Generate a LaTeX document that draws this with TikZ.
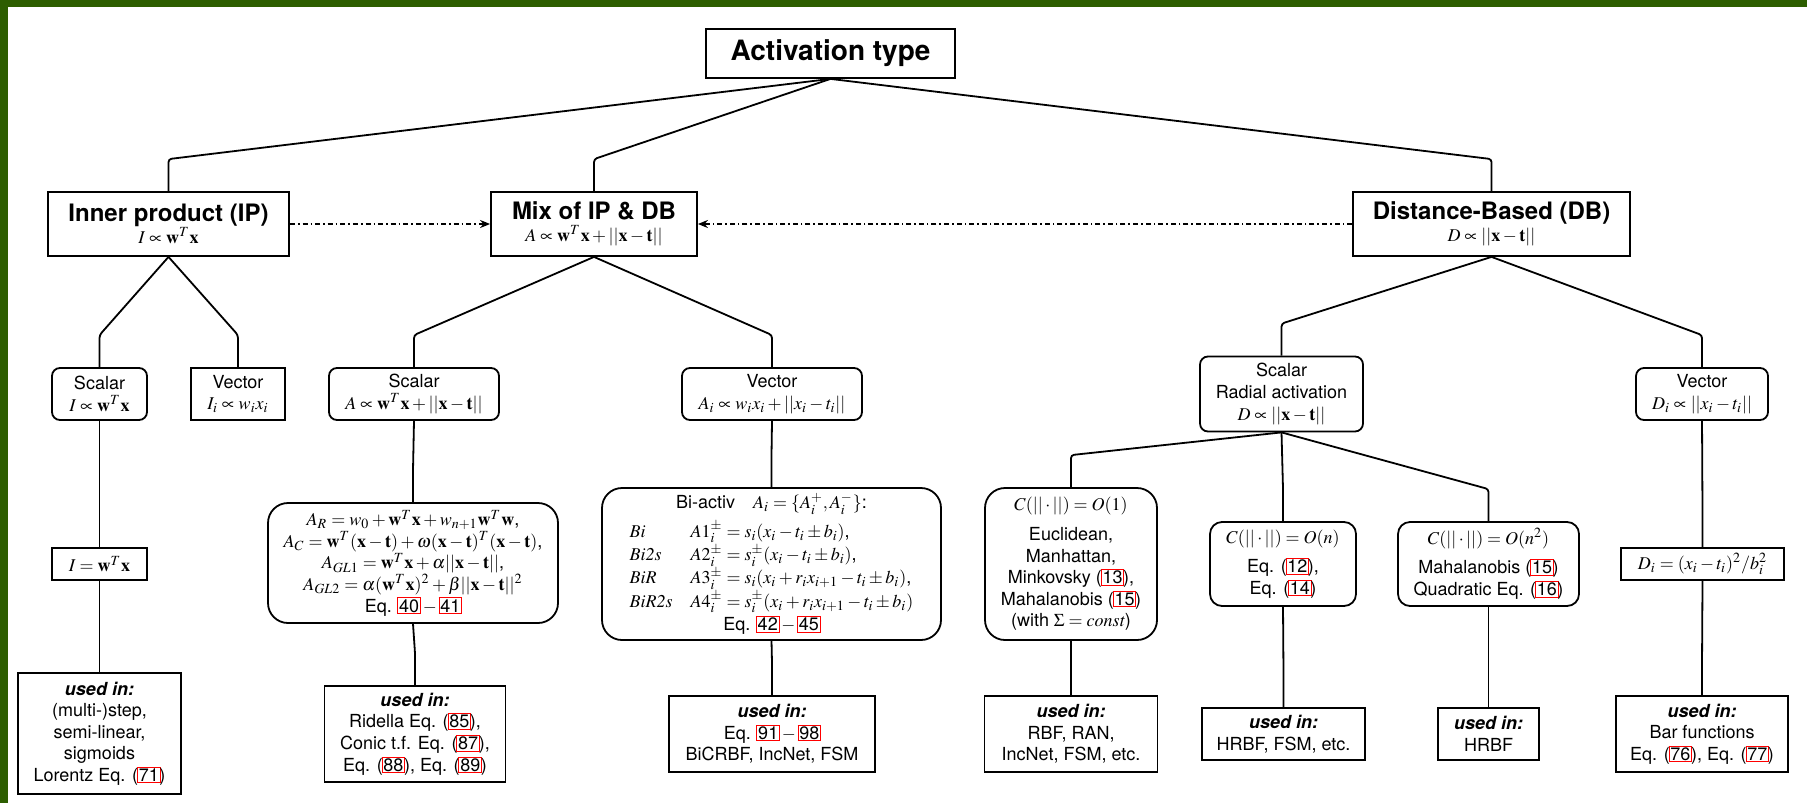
\documentclass[tikz,border=0pt]{standalone}
\usepackage{mathptmx}
\usepackage[no-math]{fontspec}
\setmainfont{TeX Gyre Heros}
\usetikzlibrary{arrows.meta}

\definecolor{framegreen}{RGB}{45,94,0}
% red link frame around equation numbers
\newcommand{\lnk}[1]{\kern-0.6pt{\setlength{\fboxsep}{0.4pt}\setlength{\fboxrule}{0.5pt}\color{red}\fbox{\color{black}#1}}\kern-0.6pt}
\newcommand{\usedin}{\textbf{\textit{used in:}}}
\newcommand{\grouptitle}[1]{{\fontsize{12}{14}\selectfont\bfseries #1}}

\begin{document}
\begin{tikzpicture}[x=0.5pt, y=-0.5pt,
    block/.style={rectangle, draw, line width=0.9pt, align=center, inner sep=2pt, font=\fontsize{9}{10.8}\selectfont},
    soft/.style={block, rounded corners=4pt},
    bigsoft/.style={block, rounded corners=10pt},
    conn/.style={line width=0.9pt, rounded corners=1.5pt},
    dotconn/.style={line width=0.9pt, dash pattern=on 2.5pt off 1.5pt on 0.8pt off 1.5pt, -{Stealth[length=5pt, width=4pt]}}
]

% Frame
\fill[white] (0,0) rectangle (1807,803);
\fill[framegreen] (0,0) rectangle (1807,7);
\fill[framegreen] (0,0) rectangle (8,803);
\useasboundingbox (0,0) rectangle (1807,803);

% Nodes
\node[block, minimum width=124.5pt, minimum height=24.5pt, font=\fontsize{14}{16}\selectfont\bfseries] (top) at (830.5,53.5) {Activation type};

\node[block, minimum width=120.5pt, minimum height=32pt] (ip) at (168.5,224) {\grouptitle{Inner product (IP)}\\ $I \propto \mathbf{w}^T\mathbf{x}$};
\node[block, minimum width=103pt, minimum height=32pt] (mix) at (594,224) {\grouptitle{Mix of IP \& DB}\\ $A \propto \mathbf{w}^T\mathbf{x} + ||\mathbf{x}-\mathbf{t}||$};
\node[block, minimum width=138.5pt, minimum height=32pt] (db) at (1491.5,224) {\grouptitle{Distance-Based (DB)}\\ $D \propto ||\mathbf{x}-\mathbf{t}||$};

\node[soft, minimum width=47.5pt, minimum height=26pt] (ipsc) at (99.5,394) {Scalar\\ $I \propto \mathbf{w}^T\mathbf{x}$};
\node[block, minimum width=47pt, minimum height=26pt] (ipvec) at (238,394) {Vector\\ $I_i \propto w_i x_i$};
\node[soft, minimum width=85pt, minimum height=26pt] (mixsc) at (414,394) {Scalar\\ $A \propto \mathbf{w}^T\mathbf{x} + ||\mathbf{x}-\mathbf{t}||$};
\node[soft, minimum width=90pt, minimum height=26pt] (mixvec) at (772,394) {Vector\\ $A_i \propto w_i x_i + ||x_i - t_i||$};
\node[soft, minimum width=81.5pt, minimum height=37.5pt] (dbsc) at (1281.5,394) {Scalar\\ Radial activation\\ $D \propto ||\mathbf{x}-\mathbf{t}||$};
\node[soft, minimum width=66pt, minimum height=26pt] (dbvec) at (1702,394) {Vector\\ $D_i \propto ||x_i - t_i||$};

\node[block, minimum width=47.5pt, minimum height=16pt] (ipform) at (99.5,564) {$I = \mathbf{w}^T\mathbf{x}$};
\node[bigsoft, minimum width=145pt, minimum height=60pt] (mixform) at (413,563) {%
  $A_R = w_0 + \mathbf{w}^T\mathbf{x} + w_{n+1}\mathbf{w}^T\mathbf{w}$,\\
  $A_C = \mathbf{w}^T(\mathbf{x}-\mathbf{t}) + \omega(\mathbf{x}-\mathbf{t})^T(\mathbf{x}-\mathbf{t})$,\\
  $A_{GL1} = \mathbf{w}^T\mathbf{x} + \alpha||\mathbf{x}-\mathbf{t}||$,\\
  $A_{GL2} = \alpha(\mathbf{w}^T\mathbf{x})^2 + \beta||\mathbf{x}-\mathbf{t}||^2$\\
  Eq. \lnk{40}\,$-$\,\lnk{41}};
\node[bigsoft, minimum width=169.5pt, minimum height=76pt] (biform) at (771.5,564) {%
  Bi-activ\quad $A_i = \{A_i^+, A_i^-\}$:\\[2pt]
  \renewcommand{\arraystretch}{1.08}%
  \begin{tabular}{@{}l@{\hspace{9pt}}l@{}}
    $\mathit{Bi}$ & $A1_i^{\pm} = s_i(x_i - t_i \pm b_i)$,\\
    $\mathit{Bi2s}$ & $A2_i^{\pm} = s_i^{\pm}(x_i - t_i \pm b_i)$,\\
    $\mathit{BiR}$ & $A3_i^{\pm} = s_i(x_i + r_i x_{i+1} - t_i \pm b_i)$,\\
    $\mathit{BiR2s}$ & $A4_i^{\pm} = s_i^{\pm}(x_i + r_i x_{i+1} - t_i \pm b_i)$
  \end{tabular}\\
  Eq. \lnk{42}\,$-$\,\lnk{45}};
\node[bigsoft, minimum width=86pt, minimum height=76pt] (c1) at (1071,564) {$C(||\cdot||) = O(1)$\\[4pt] Euclidean,\\ Manhattan,\\ Minkovsky (\lnk{13}),\\ Mahalanobis (\lnk{15})\\ (with $\Sigma = \mathit{const}$)};
\node[soft, rounded corners=6pt, minimum width=73pt, minimum height=42pt] (cn) at (1283,564) {$C(||\cdot||) = O(n)$\\[4pt] Eq. (\lnk{12}),\\ Eq. (\lnk{14})};
\node[soft, rounded corners=6pt, minimum width=90.5pt, minimum height=42pt] (cn2) at (1488.5,564) {$C(||\cdot||) = O(n^2)$\\[4pt] Mahalanobis (\lnk{15})\\ Quadratic Eq. (\lnk{16})};
\node[block, minimum width=81.5pt, minimum height=16pt] (diform) at (1702.5,564) {$D_i = (x_i - t_i)^2 / b_i^2$};

\node[block, minimum width=81.5pt, minimum height=60.5pt] (ipuse) at (99.5,733.5) {\usedin\\ (multi-)step,\\ semi-linear,\\ sigmoids\\ Lorentz Eq. (\lnk{71})};
\node[block, minimum width=90.5pt, minimum height=48pt] (mixuse) at (415,734) {\usedin\\ Ridella Eq. (\lnk{85}),\\ Conic t.f. Eq. (\lnk{87}),\\ Eq. (\lnk{88}), Eq. (\lnk{89})};
\node[block, minimum width=103pt, minimum height=38pt] (biuse) at (772,734) {\usedin\\ Eq. \lnk{91}\,$-$\,\lnk{98}\\ BiCRBF, IncNet, FSM};
\node[block, minimum width=86.5pt, minimum height=38pt] (c1use) at (1071,734) {\usedin\\ RBF, RAN,\\ IncNet, FSM, etc.};
\node[block, minimum width=81.5pt, minimum height=26pt] (cnuse) at (1283.5,734) {\usedin\\ HRBF, FSM, etc.};
\node[block, minimum width=50.5pt, minimum height=26pt] (cn2use) at (1488.5,734) {\usedin\\ HRBF};
\node[block, minimum width=86pt, minimum height=38pt] (diuse) at (1702,734) {\usedin\\ Bar functions\\ Eq. (\lnk{76}), Eq. (\lnk{77})};

% Tree links
\foreach \p/\c in {top/ip, top/mix, top/db,
    ip/ipsc, ip/ipvec, mix/mixsc, mix/mixvec, db/dbsc, db/dbvec,
    ipsc/ipform, mixsc/mixform, mixvec/biform, dbsc/c1, dbsc/cn, dbsc/cn2, dbvec/diform,
    ipform/ipuse, mixform/mixuse, biform/biuse, c1/c1use, cn/cnuse, cn2/cn2use, diform/diuse}
  \draw[conn] (\p.south) -- ([yshift=16pt]\c.north) -- (\c.north);

% Dotted links towards the mixed type
\draw[dotconn] (ip.east) -- (mix.west);
\draw[dotconn] (db.west) -- (mix.east);

\end{tikzpicture}
\end{document}
